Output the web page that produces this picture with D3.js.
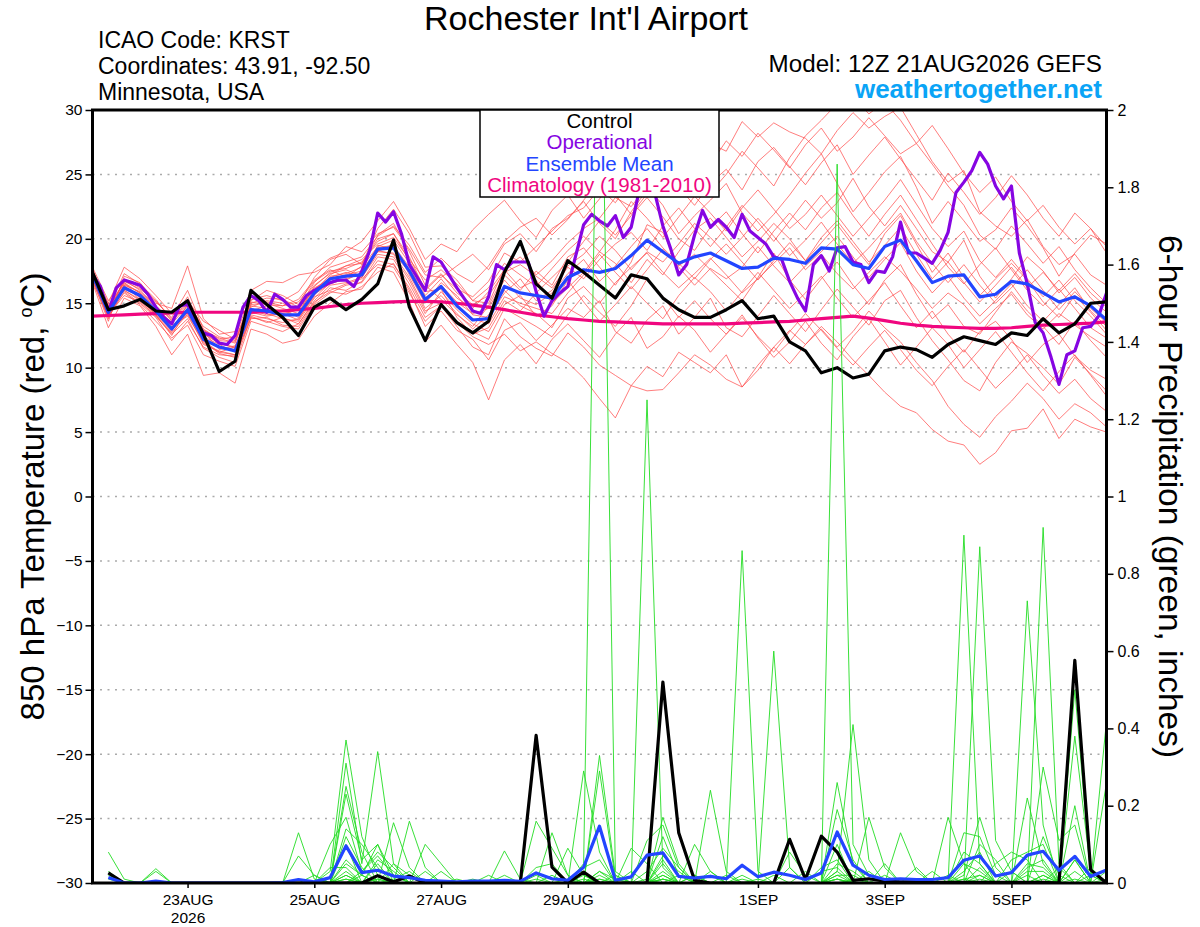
<!DOCTYPE html>
<html>
<head>
<meta charset="utf-8">
<script src="https://cdn.jsdelivr.net/npm/d3@7"></script>
<style>
  body { margin: 0; background: #fff; }
  svg { font-family: "Liberation Sans", Arial, Helvetica, sans-serif; }
</style>
</head>
<body>
<script>
// ---- data -------------------------------------------------------------
const runStart = Date.UTC(2026, 7, 21, 12);   // 12Z 21AUG2026
const stepHours = 6;      // ensemble, control, mean, climatology
const opStepHours = 3;    // operational run

const dateTicks = ['2026-08-23', '2026-08-25', '2026-08-27', '2026-08-29', '2026-09-01', '2026-09-03', '2026-09-05'];
const tempTicks = [-30, -25, -20, -15, -10, -5, 0, 5, 10, 15, 20, 25, 30];
const precipTicks = [0, 0.2, 0.4, 0.6, 0.8, 1, 1.2, 1.4, 1.6, 1.8, 2];

const legendItems = ['Control', 'Operational', 'Ensemble Mean', 'Climatology (1981-2010)'];

// 850 hPa temperature, 6-hourly from 12Z 21AUG
const tempControl = [17.4,14.5,14.8,15.3,14.4,14.3,15.2,12.6,9.7,10.5, 16.0,14.9,13.9,12.5,14.7,15.4,14.5,15.3,16.5,19.9,
  14.7,12.1,14.9,13.5,12.7,13.6,17.4,19.8,16.5,15.4, 18.3,17.4,16.4,15.4,17.2,16.9,15.4,14.5,13.9,13.9,
  14.5,15.2,13.8,14.0,12.0,11.3,9.6,10.0,9.2,9.5, 11.3,11.6,11.4,10.8,11.8,12.4,12.1,11.8,12.7,12.5, 13.8,12.7,13.4,15.0,15.1];

const tempMean = [17.2,14.3,16.2,15.6,14.4,13.0,14.5,12.2,11.6,11.3, 14.5,14.4,14.1,14.1,15.8,16.9,17.1,17.2,19.2,19.3,
  17.5,15.3,16.3,14.8,13.7,13.8,16.3,15.8,15.6,15.4, 17.0,17.6,17.4,17.7,18.7,19.9,19.0,18.1,18.6,18.9,
  18.3,17.7,17.8,18.5,18.4,18.1,19.3,19.2,18.0,17.7, 19.4,19.9,18.3,16.6,17.1,17.2,15.5,15.7,16.7,16.5, 15.8,15.1,15.5,14.8,13.7];

const tempClimo = [14.0,14.05,14.1,14.15,14.2,14.25,14.3,14.3,14.3,14.3, 14.3,14.35,14.4,14.5,14.6,14.75,14.9,15.0,15.05,15.1,
  15.15,15.15,15.1,15.0,14.85,14.7,14.5,14.3,14.1,13.95, 13.8,13.7,13.6,13.55,13.5,13.45,13.4,13.4,13.4,13.4,
  13.4,13.45,13.5,13.55,13.6,13.7,13.8,13.9,14.0,13.85, 13.65,13.45,13.3,13.2,13.15,13.1,13.05,13.05,13.1,13.2, 13.3,13.35,13.4,13.45,13.55];

// operational, 3-hourly
const tempOper = [17.2,16.3,14.3,16.2,16.8,16.6,16.4,15.7,14.7,13.9, 13.4,14.8,14.9,13.6,12.7,12.5,11.9,11.8,12.5,14.7,
  15.6,15.2,14.3,15.7,15.3,14.7,14.7,15.6,16.0,16.3, 16.6,16.8,16.8,16.3,17.5,19.1,22.0,21.3,22.1,20.4,
  18.0,17.0,16.0,18.6,18.2,17.2,16.2,15.3,14.4,14.2, 15.5,18.0,17.6,18.2,18.2,18.2,15.9,14.0,15.2,15.8,
  16.3,18.7,21.1,21.9,21.4,21.0,21.8,20.1,20.9,23.7, 26.0,23.5,21.0,19.2,17.2,18.0,20.3,22.2,20.9,21.5,
  20.9,20.1,21.9,20.6,20.1,19.6,18.6,18.4,16.7,15.4, 14.4,18.0,18.7,17.5,19.3,19.4,18.2,18.0,16.6,17.5,
  17.4,18.6,21.3,18.9,18.9,18.5,18.1,19.1,20.5,23.6, 24.4,25.3,26.7,25.8,24.1,23.1,24.1,18.9,16.5,13.5,
  12.7,10.8,8.7,11.0,11.3,13.1,13.2,14.0,15.8];

// ensemble members, 6-hourly
const tempMembers = [
  [17.0,14.0,16.5,15.8,14.6,13.4,14.8,12.6,11.9,11.6, 14.9,15.0,14.6,14.2,16.3,17.4,17.9,18.1,20.0,20.4, 18.6,16.0,17.2,16.1,15.5,16.7,18.9,18.2,19.4,20.6,
   21.8,22.4,23.9,22.8,24.6,25.8,24.9,26.1,25.2,27.4, 26.8,29.1,27.9,29.0,28.3,27.8,26.6,28.4,29.8,28.6, 29.5,30.2,28.1,26.0,24.4,25.3,22.1,21.0,20.2,21.5, 19.4,18.0,18.8,17.2,16.4],
  [17.4,14.6,16.0,15.2,14.0,12.6,13.8,11.5,10.8,10.4, 13.9,13.6,13.2,13.0,14.9,15.8,16.4,16.6,18.3,18.0, 16.2,13.9,14.8,13.2,11.6,11.0,13.8,12.4,11.5,10.9,
   12.7,11.6,10.2,9.4,8.6,10.1,9.3,11.2,10.4,9.6, 11.0,8.5,9.8,11.6,12.9,11.8,13.2,12.0,10.6,9.4, 8.1,7.0,6.5,5.2,4.3,4.0,2.5,3.4,5.1,5.3, 6.8,4.5,6.0,5.4,5.0],
  [16.8,13.6,17.1,16.6,15.1,13.9,16.0,13.0,12.2,12.4, 15.6,15.1,14.8,15.3,16.8,17.6,17.0,17.9,20.3,21.2, 19.0,16.4,15.3,14.1,13.2,14.8,17.2,16.0,17.5,16.4,
   18.6,19.3,17.8,16.4,18.2,21.1,20.5,17.9,18.8,17.6, 16.4,15.2,17.0,18.9,16.8,15.3,16.9,18.2,16.4,14.9, 16.8,18.0,15.7,13.8,14.9,13.2,12.6,14.3,15.9,14.4, 13.2,11.8,13.6,12.1,10.8],
  [17.6,15.0,17.8,16.9,15.6,14.2,15.2,13.6,12.9,12.2, 15.2,16.0,15.6,14.9,17.0,18.4,18.8,18.0,20.8,22.3, 20.4,17.8,17.9,16.8,15.2,15.0,17.7,18.6,17.2,18.3,
   19.7,20.8,21.6,23.2,22.5,24.1,22.6,20.4,21.8,23.0, 24.3,22.0,20.6,21.9,23.4,25.1,26.6,24.3,22.1,23.6, 25.2,26.4,24.0,21.2,22.9,21.4,19.8,20.7,22.4,21.0, 19.3,17.1,18.9,20.3,19.6],
  [16.9,14.2,15.8,14.9,13.6,12.3,13.3,11.0,10.5,10.1, 13.6,13.2,12.8,13.4,15.1,15.9,15.7,16.3,17.4,18.1, 16.0,13.2,14.4,12.9,12.2,10.6,12.9,13.5,12.1,13.3,
   14.6,13.9,15.2,12.8,11.9,13.7,14.8,12.6,13.9,15.4, 13.1,12.4,14.0,15.6,14.2,12.8,14.5,16.1,14.7,13.3, 15.2,16.0,13.9,12.1,10.6,9.0,8.2,10.4,12.0,11.1, 10.0,8.7,10.8,9.5,8.2],
  [17.5,14.8,16.6,15.4,14.1,12.8,14.9,12.1,11.2,11.0, 14.4,14.8,14.0,14.6,16.1,17.0,17.4,17.0,19.0,19.6, 17.2,15.0,16.6,15.6,14.1,13.9,15.8,16.9,15.2,16.0,
   17.8,16.9,18.4,19.6,20.5,19.1,21.0,22.4,20.8,19.4, 20.9,22.6,21.3,19.8,21.4,23.0,21.6,22.8,24.7,22.5, 21.0,22.6,20.8,19.0,18.2,19.9,17.1,15.4,16.9,18.6, 17.5,15.8,17.0,15.4,14.3],
  [16.6,13.1,15.4,14.8,13.2,11.0,12.6,9.4,9.6,8.8, 13.0,12.6,11.9,12.2,14.0,15.0,15.9,16.1,17.8,17.4, 15.1,12.0,13.3,11.8,10.4,7.5,10.6,11.8,10.3,12.2,
   13.4,12.1,10.8,12.6,13.9,11.5,12.4,14.0,12.9,11.2, 12.6,14.1,12.3,10.8,12.0,13.6,11.9,10.6,12.4,13.8, 12.0,10.2,11.6,13.1,11.8,10.0,11.4,12.8,11.2,9.6, 8.2,9.7,11.0,9.4,7.8],
  [17.8,15.2,16.9,16.2,15.0,14.6,17.9,13.8,12.6,12.8, 16.0,16.7,16.6,17.2,17.4,18.0,19.4,19.0,20.4,20.9, 19.2,17.2,17.0,17.9,18.8,17.6,19.6,20.4,19.0,20.8,
   21.6,22.9,21.2,20.0,22.1,23.8,25.6,24.0,22.6,24.3, 25.4,23.8,26.0,27.1,25.6,24.2,25.9,27.3,25.0,26.5, 27.9,26.2,24.6,23.0,25.1,23.6,21.9,23.2,24.9,23.4, 21.6,20.2,22.0,20.8,19.4],
  [17.3,14.4,16.4,15.9,14.8,13.3,14.1,12.4,11.8,11.2, 14.6,14.2,13.8,13.6,15.4,16.6,16.8,17.4,19.1,18.8, 17.0,14.6,15.6,14.2,13.0,14.1,16.0,14.8,14.2,13.1,
   15.4,16.3,15.0,16.6,17.8,18.9,17.4,16.2,17.3,18.5, 17.2,15.8,16.9,18.1,19.3,17.6,18.8,17.3,16.1,17.4, 18.6,17.5,16.1,14.6,15.8,14.9,13.4,14.6,15.7,14.1, 13.0,14.2,13.3,12.4,11.6],
  [17.0,14.1,16.3,15.5,14.3,13.1,14.6,12.8,11.4,11.7, 14.2,14.4,14.5,13.9,15.6,17.1,17.3,17.8,19.4,19.9, 18.1,15.6,16.9,15.4,14.6,15.9,17.6,16.2,16.8,15.0,
   16.2,17.4,19.0,18.1,16.6,18.4,17.2,19.0,20.7,21.6, 20.1,18.6,19.8,21.2,20.0,18.3,19.7,21.1,19.5,18.0, 20.4,21.8,19.6,17.4,18.9,17.0,15.6,16.9,18.1,16.8, 15.1,13.9,15.6,14.3,12.9],
  [17.1,14.5,17.3,16.5,15.3,13.6,14.9,12.9,12.1,12.0, 15.3,15.6,15.2,15.9,17.6,18.5,19.0,19.8,21.4,22.9, 20.8,18.4,19.6,19.0,20.7,21.9,23.0,21.4,20.1,22.2,
   23.4,21.6,23.1,24.8,26.2,24.9,27.1,28.4,27.0,25.8, 27.6,26.4,28.2,26.9,25.5,27.3,28.6,26.8,27.9,29.4, 28.0,26.6,27.4,25.8,24.1,22.6,20.3,19.2,21.0,19.6, 18.1,19.4,17.6,16.2,15.0],
  [16.7,13.9,15.9,15.0,13.9,12.1,13.6,11.6,11.0,10.9, 13.8,13.9,13.3,13.2,15.0,16.2,16.0,16.7,18.6,18.4, 16.5,14.2,15.9,14.5,13.4,12.8,14.9,15.6,14.0,14.8,
   16.8,15.1,13.6,14.9,16.3,15.0,13.8,15.6,17.0,15.9, 14.4,15.9,17.4,16.0,14.6,15.8,17.1,15.4,13.9,15.2, 16.6,14.8,13.1,14.4,12.6,11.2,12.8,13.6,12.2,10.4, 11.8,12.6,10.9,9.8,9.1],
  [17.4,14.7,16.0,15.3,14.2,12.9,14.4,12.3,11.5,11.4, 14.8,14.6,14.4,14.8,16.4,17.3,17.6,17.1,19.5,19.2, 17.6,15.9,16.1,13.9,12.6,13.1,15.2,14.4,15.8,17.0,
   18.2,19.8,21.4,20.3,21.8,23.2,21.7,20.0,19.1,20.9, 22.1,20.4,18.9,20.6,22.0,20.7,22.4,23.6,21.8,20.2, 21.9,23.4,21.5,19.6,17.8,16.5,18.0,19.3,17.6,16.0, 14.8,16.1,14.6,13.1,12.3],
  [17.1,14.0,16.2,15.7,14.5,13.2,14.0,12.0,11.1,10.8, 14.0,13.5,13.9,13.4,15.2,16.4,16.6,17.0,18.8,18.6, 16.8,14.4,15.0,13.5,12.4,11.8,12.6,11.3,12.0,11.1,
   10.4,9.2,7.6,6.1,8.6,8.2,8.3,9.6,11.0,10.2, 9.1,8.5,10.2,11.6,10.3,11.8,13.0,11.6,12.8,14.4, 13.1,12.0,10.4,9.0,7.0,5.6,4.6,6.2,7.4,8.8, 7.6,6.0,7.2,6.5,5.4],
  [17.2,14.3,16.8,16.0,14.8,13.7,15.5,12.7,11.9,11.5, 14.7,15.2,15.0,14.4,16.0,17.2,17.9,18.4,19.6,20.1, 18.4,16.8,17.6,16.5,15.2,16.2,18.1,17.2,16.3,17.7,
   19.1,20.2,19.0,20.7,22.9,21.6,20.1,21.7,23.3,22.0, 20.6,22.4,23.8,22.3,20.8,21.9,23.4,21.8,20.2,21.6, 23.0,24.6,22.7,20.8,19.4,20.6,18.3,17.0,18.4,16.9, 15.5,16.8,15.2,14.0,12.6],
  [16.9,14.1,15.6,15.1,14.0,12.7,14.2,11.8,11.3,11.0, 14.1,13.8,13.5,13.8,15.5,16.0,16.5,16.9,18.0,17.8, 15.8,13.6,14.8,13.6,12.8,12.2,14.6,13.9,13.2,12.4,
   14.1,15.6,14.3,13.2,14.8,16.9,15.5,13.9,15.2,13.8, 12.6,13.9,12.4,11.2,12.8,14.2,12.9,11.5,10.2,11.6, 12.9,11.4,9.8,8.6,10.1,11.4,9.9,8.4,9.6,11.0, 9.4,8.0,9.1,7.6,6.6],
  [17.5,14.9,16.1,15.6,14.4,12.9,14.3,12.2,11.6,11.3, 14.5,14.1,14.2,14.5,16.2,16.8,17.2,17.5,19.3,19.5, 17.8,15.4,16.4,15.1,14.2,14.6,16.8,15.4,14.9,15.8,
   17.3,18.4,16.7,17.9,19.4,20.8,19.3,18.1,16.9,18.4, 19.6,18.2,16.8,18.3,19.7,18.3,20.1,21.4,19.8,18.2, 19.5,20.9,18.8,16.9,18.2,16.6,15.1,16.4,17.8,16.2, 17.4,16.0,17.3,15.8,14.7],
  [17.3,14.6,16.7,16.1,15.2,13.8,15.0,13.2,12.4,12.1, 15.0,15.4,15.3,14.7,16.6,17.8,18.2,18.6,20.2,21.0, 19.5,17.4,18.5,17.3,16.6,17.9,19.8,20.9,21.6,20.3,
   21.5,23.0,24.6,23.4,21.9,23.5,25.0,26.6,25.1,23.6, 25.0,26.8,25.5,24.1,26.3,28.0,29.2,30.5,31.0,29.7, 30.6,29.2,27.4,28.8,27.0,25.1,23.6,24.8,22.9,21.4, 22.6,20.9,19.6,20.8,18.9],
  [17.0,13.8,16.4,15.3,14.1,12.5,14.6,11.9,11.2,11.6, 14.3,14.0,14.2,13.7,15.7,16.5,16.9,17.3,19.0,18.9, 17.4,15.1,16.2,14.8,13.8,13.4,15.5,15.0,14.6,14.2,
   15.8,17.2,18.8,17.4,16.1,17.6,19.2,17.8,16.4,17.7, 16.9,17.8,19.4,17.9,16.6,17.9,19.0,20.2,18.6,17.0, 18.4,19.7,17.5,15.8,17.1,15.4,14.0,15.2,16.5,14.8, 13.6,14.9,16.2,14.4,13.2],
  [17.6,14.4,16.6,15.8,14.7,13.5,15.3,12.9,12.3,11.9, 15.1,14.9,14.8,15.1,16.7,17.5,17.7,18.2,19.8,20.4, 18.3,16.1,17.3,15.8,14.9,15.6,17.4,18.0,17.1,16.2,
   17.9,18.8,20.2,19.1,17.6,19.0,18.2,19.6,21.2,20.1, 18.8,20.1,21.6,20.2,18.7,19.9,21.3,19.6,18.1,19.3, 20.7,22.0,19.8,18.1,16.6,18.0,16.4,15.0,16.2,17.6, 16.0,14.5,15.9,14.6,13.5]
];

// 6-hour precipitation (inches), periods ending 18Z 21AUG ... 12Z 6SEP (64 values)
const precipControl = [0.026,0,0,0,0,0,0,0, 0,0,0,0,0,0,0,0, 0,0.019,0.003,0.018,0,0,0,0, 0,0,0,0.382,0.041,0,0.028,0,
  0,0,0,0.52,0.13,0.007,0,0, 0,0,0,0.113,0.009,0.121,0.08,0.007, 0.011,0.005,0.003,0.003,0.002,0.002,0.002,0.002, 0.002,0.002,0.002,0.002,0,0.576,0.034,0];

const precipMean = [0.014,0,0,0.005,0,0,0,0, 0,0,0,0.001,0.009,0.003,0.014,0.096, 0.027,0.033,0.018,0.014,0.007,0.005,0.003,0.005,
  0.005,0.007,0.004,0.026,0.011,0.007,0.041,0.147, 0.007,0.016,0.072,0.078,0.017,0.013,0.017,0.011, 0.046,0.016,0.028,0.02,0.009,0.026,0.132,0.046,
  0.02,0.009,0.011,0.009,0.009,0.014,0.059,0.07, 0.018,0.027,0.072,0.082,0.033,0.069,0.017,0.034];

const precipMembers = [
  [.08,.01,0,0,0,0,0,0, 0,0,0,0,0,0,.03,.37, .12,.02,0,0,0,0,0,0, 0,0,0,.02,0,0,.05,2.56, .03,0,0,.06,0,0,0,0, 0,0,0,0,0,0,.03,.41, .06,0,0,0,0,0,.02,.17, .04,0,0,0,0,.06,0,0],
  [.03,0,0,.037,0,0,0,0, 0,0,0,0,0,0,0,.31, .05,.34,.05,.02,0,0,0,0, 0,0,0,0,.13,.02,0,0, 0,0,1.25,.04,0,0,0,0, .02,0,0,0,0,0,.26,.05, 0,0,0,0,0,0,.9,.05, 0,0,0,.12,.02,0,0,.42],
  [.02,0,0,.03,0,0,0,0, 0,0,0,0,.13,.01,0,.25, .08,0,.156,.04,0,0,0,0, 0,.083,.01,0,0,0,0,.33, .02,0,0,0,0,0,.24,.03, 0,0,0,0,0,0,1.86,.1, .02,0,0,0,0,0,0,0, 0,0,.22,.05,0,.38,.03,0],
  [0,0,0,0,0,0,0,0, 0,0,0,0,.07,.02,0,.23, .06,.1,0,.16,.04,0,0,0, 0,0,0,.16,.09,.02,0,.29, .01,0,0,.17,.05,0,0,0, 0,0,.6,.04,0,0,0,0, 0,0,0,0,0,0,0,.87, .11,.03,0,0,0,0,0,0],
  [0,0,0,0,0,0,0,0, 0,0,0,0,0,0,.1,.17, .03,.07,.02,0,.1,.05,0,0, 0,0,0,0,0,0,.29,.08, 0,0,.11,.15,.04,0,0,0, .86,.03,0,0,0,0,0,0, 0,0,0,0,0,0,0,0, 0,0,0,.92,.05,0,0,0],
  [0,0,0,0,0,0,0,0, 0,0,0,0,0,0,0,.14, .1,.04,0,0,0,.03,0,0, .02,0,0,0,0,.09,.02,0, 0,.09,.05,0,0,.1,.03,0, 0,0,0,0,0,0,.19,.06, 0,0,0,0,0,.17,.05,0, 0,0,.73,.15,0,.5,.02,0],
  [0,0,0,0,0,0,0,0, 0,0,0,0,0,0,0,.12, .04,0,.05,0,0,0,0,.01, 0,0,0,.04,.05,0,0,.03, .01,0,0,.07,.03,0,0,0, 0,0,0,.08,.02,0,.1,0, .17,.04,0,0,0,0,.13,.12, .02,0,0,0,0,.2,0,.26],
  [.01,0,0,0,0,0,0,0, 0,0,0,0,0,0,0,.1, 0,.06,.03,0,0,0,.01,0, 0,0,0,0,0,0,.04,.06, 0,0,0,.12,.02,0,.03,0, 0,0,0,0,0,.04,.06,0, 0,0,.13,.03,0,0,0,.1, .06,0,0,.3,.11,.15,0,0],
  [0,0,0,0,0,0,0,0, 0,0,0,0,0,0,0,.06, .02,.1,.02,0,0,0,0,0, 0,.02,0,0,0,0,0,.03, 0,0,0,.05,0,.02,0,0, 0,0,0,.04,0,0,.05,.03, 0,0,0,0,.03,0,.08,.05, 0,.06,.08,.1,0,0,.04,0],
  [0,0,0,0,0,0,0,0, 0,0,0,0,0,0,0,.05, .02,0,0,.02,0,0,0,0, 0,0,0,0,.02,0,.02,0, 0,0,.03,.09,.04,0,0,0, 0,0,0,0,0,.03,.04,0, 0,.05,0,0,0,0,.05,.03, 0,0,.04,.06,0,.06,0,0],
  [0,0,0,0,0,0,0,0, 0,0,0,0,0,0,.04,.04, 0,.05,0,0,.03,0,0,0, 0,0,0,0,0,.01,0,.01, 0,.03,0,.03,0,0,.02,0, 0,0,0,0,.03,0,.03,0, 0,0,0,.04,0,.02,0,0, .05,.08,.06,0,.04,0,0,0],
  [0,0,0,0,0,0,0,0, 0,0,0,0,0,0,0,0, .03,.08,.04,0,0,0,0,0, 0,0,0,.01,0,0,.01,0, .02,0,0,.02,0,0,0,.02, 0,0,.02,0,0,0,.02,.02, 0,0,0,0,0,0,.03,.08, 0,0,.05,.04,0,.03,0,.03],
  [0,0,0,0,0,0,0,0, 0,0,0,0,0,.02,0,.02, 0,0,.01,.03,0,0,0,0, 0,0,0,0,0,0,0,.02, 0,0,.01,0,.02,0,0,0, 0,.01,0,0,0,0,.02,0, .03,0,0,0,0,0,0,.04, 0,.03,0,.02,0,0,.02,0],
  [0,0,0,0,0,0,0,0, 0,0,0,0,0,0,0,.01, 0,.02,0,0,0,0,0,0, 0,0,0,0,0,0,0,0, 0,0,0,.01,0,.02,0,0, .01,0,0,0,0,0,.01,0, 0,.02,0,0,0,0,.01,.02, 0,0,.03,.03,0,0,0,.01],
  [0,0,0,0,0,0,0,0, 0,0,0,0,0,0,0,.03, 0,.01,0,0,0,0,0,0, 0,0,0,0,0,0,0,0, 0,0,0,.02,0,0,0,0, 0,0,0,0,0,0,.01,0, 0,0,0,0,0,0,0,.02, 0,0,0,.02,0,0,0,0],
  [0,0,0,0,0,0,0,0, 0,0,0,0,0,0,0,0, .02,0,0,0,0,0,0,0, 0,0,0,0,0,0,0,.01, 0,0,0,0,0,0,0,0, 0,0,0,0,0,0,0,.01, 0,0,0,0,0,0,0,0, 0,0,.02,0,0,0,0,0],
  [0,0,0,0,0,0,0,0, 0,0,0,0,0,0,0,.02, 0,0,0,0,0,0,0,0, 0,0,0,0,0,0,0,0, 0,0,0,.01,0,0,0,0, 0,0,0,0,0,0,0,0, 0,0,0,0,0,0,0,.01, 0,0,0,0,0,0,0,0],
  [0,0,0,0,0,0,0,0, 0,0,0,0,0,0,0,0, 0,.01,0,0,0,0,0,0, 0,0,0,0,0,0,0,0, 0,0,0,0,0,0,0,0, 0,0,0,0,0,0,.01,0, 0,0,0,0,0,0,0,0, 0,0,0,.01,0,0,0,0],
  [0,0,0,0,0,0,0,0, 0,0,0,0,0,0,0,.01, 0,0,0,0,0,0,0,0, 0,0,0,0,0,0,0,0, 0,0,0,0,0,0,0,0, 0,0,0,0,0,0,0,0, 0,0,0,0,0,0,.01,0, 0,0,0,0,0,0,0,0],
  [0,0,0,0,0,0,0,0, 0,0,0,0,0,0,0,0, 0,0,0,0,0,0,0,0, 0,0,0,0,0,0,0,0, 0,0,0,.01,0,0,0,0, 0,0,0,0,0,0,0,0, 0,0,0,0,0,0,0,0, 0,0,0,0,0,.01,0,0]
];

// ---- layout -----------------------------------------------------------
const W = 1200, H = 927;
const plot = {left: 92.5, right: 1106.5, top: 110, bottom: 883};
const colors = {member: '#ff4a4a', precip: '#22dd22', control: '#000', oper: '#8605e2', mean: '#2345ff', climo: '#f0067f'};

const svg = d3.select('body').append('svg')
    .attr('width', W)
    .attr('height', H);

const hour = 3600 * 1000;
const runEnd = runStart + (tempMean.length - 1) * stepHours * hour;

const x = d3.scaleUtc().domain([runStart, runEnd]).range([plot.left, plot.right]);
const yT = d3.scaleLinear().domain([-30, 30]).range([plot.bottom, plot.top]);
const yP = d3.scaleLinear().domain([0, 2]).range([plot.bottom, plot.top]);

const timeAt = (i, step) => runStart + i * step * hour;

svg.append('clipPath').attr('id', 'plotclip')
  .append('rect')
    .attr('x', plot.left).attr('y', plot.top)
    .attr('width', plot.right - plot.left).attr('height', plot.bottom - plot.top);

// dotted grid at the temperature ticks
svg.append('g').selectAll('line')
  .data(tempTicks.filter(d => d > -30 && d < 30))
  .join('line')
    .attr('x1', plot.left).attr('x2', plot.right)
    .attr('y1', d => yT(d)).attr('y2', d => yT(d))
    .attr('stroke', '#aaa')
    .attr('stroke-width', 1.5)
    .attr('stroke-dasharray', '2,5.5');

const lines = svg.append('g').attr('clip-path', 'url(#plotclip)');

const tempLine = step => d3.line().x((d, i) => x(timeAt(i, step))).y(d => yT(d));
// precip periods start at the first 6h step
const precipLine = d3.line().x((d, i) => x(timeAt(i + 1, stepHours))).y(d => yP(d));

// ensemble members (temperature)
lines.append('g').selectAll('path')
  .data(tempMembers)
  .join('path')
    .attr('d', tempLine(stepHours))
    .attr('fill', 'none')
    .attr('stroke', colors.member)
    .attr('stroke-opacity', 0.8)
    .attr('stroke-width', 0.9);

function thick(data, line, color) {
    lines.append('path')
        .datum(data)
        .attr('d', line)
        .attr('fill', 'none')
        .attr('stroke', color)
        .attr('stroke-width', 3.2)
        .attr('stroke-linejoin', 'round');
}

thick(tempClimo, tempLine(stepHours), colors.climo);
thick(tempOper, tempLine(opStepHours), colors.oper);
thick(tempMean, tempLine(stepHours), colors.mean);
thick(tempControl, tempLine(stepHours), colors.control);

// ensemble members (precip)
lines.append('g').selectAll('path')
  .data(precipMembers)
  .join('path')
    .attr('d', precipLine)
    .attr('fill', 'none')
    .attr('stroke', colors.precip)
    .attr('stroke-width', 0.9);

thick(precipControl, precipLine, colors.control);
thick(precipMean, precipLine, colors.mean);

// frame
svg.append('rect')
    .attr('x', plot.left).attr('y', plot.top)
    .attr('width', plot.right - plot.left).attr('height', plot.bottom - plot.top)
    .attr('fill', 'none')
    .attr('stroke', '#000')
    .attr('stroke-width', 3);

// axes
const leftAxis = svg.append('g')
    .attr('transform', `translate(${plot.left},0)`)
    .call(d3.axisLeft(yT).tickValues(tempTicks).tickSize(7).tickPadding(3));
const rightAxis = svg.append('g')
    .attr('transform', `translate(${plot.right},0)`)
    .call(d3.axisRight(yP).tickValues(precipTicks).tickSize(7).tickPadding(4)
        .tickFormat(d => String(+d.toFixed(1))));
const bottomAxis = svg.append('g')
    .attr('transform', `translate(0,${plot.bottom})`)
    .call(d3.axisBottom(x).tickValues(dateTicks.map(d => new Date(d + 'T00:00:00Z')))
        .tickSize(5).tickPadding(6)
        .tickFormat(d => d3.utcFormat('%-d%b')(d).toUpperCase()));

[leftAxis, rightAxis, bottomAxis].forEach(g => {
    g.select('.domain').remove();
    g.selectAll('.tick line').attr('stroke', '#000').attr('stroke-width', 1.5);
    g.selectAll('text').attr('fill', '#000').style('font-family', '"Liberation Sans", Arial, sans-serif');
});
leftAxis.selectAll('text').style('font-size', '15.5px');
rightAxis.selectAll('text').style('font-size', '16px');
bottomAxis.selectAll('text').style('font-size', '15.5px');
bottomAxis.select('.tick text')
  .append('tspan').attr('x', 0).attr('dy', '1.15em').text('2026');

// titles
svg.append('text')
    .attr('x', 586).attr('y', 30)
    .attr('text-anchor', 'middle')
    .style('font-size', '34px')
    .text("Rochester Int'l Airport");

const info = ['ICAO Code: KRST', 'Coordinates: 43.91, -92.50', 'Minnesota, USA'];
svg.append('g').selectAll('text')
  .data(info)
  .join('text')
    .attr('x', 98)
    .attr('y', (d, i) => 48 + i * 26)
    .style('font-size', '23px')
    .text(d => d);

svg.append('text')
    .attr('x', 1102).attr('y', 72)
    .attr('text-anchor', 'end')
    .style('font-size', '24.2px')
    .text('Model: 12Z 21AUG2026 GEFS');

svg.append('text')
    .attr('x', 1102).attr('y', 98)
    .attr('text-anchor', 'end')
    .style('font-size', '26px')
    .style('font-weight', 'bold')
    .attr('fill', '#0aa4f6')
    .text('weathertogether.net');

// axis titles
const leftTitle = svg.append('text')
    .attr('transform', `translate(44,${(plot.top + plot.bottom) / 2}) rotate(-90)`)
    .attr('text-anchor', 'middle')
    .style('font-size', '33px');
leftTitle.append('tspan').text('850 hPa Temperature (red, ');
leftTitle.append('tspan').attr('dy', -12).style('font-size', '18px').text('o');
leftTitle.append('tspan').attr('dy', 12).text('C)');

svg.append('text')
    .attr('transform', `translate(1159,${(plot.top + plot.bottom) / 2}) rotate(90)`)
    .attr('text-anchor', 'middle')
    .style('font-size', '33.5px')
    .text('6-hour Precipitation (green, inches)');

// legend
const legendColors = [colors.control, colors.oper, colors.mean, colors.climo];
const legend = svg.append('g');
legend.append('rect')
    .attr('x', 480).attr('y', plot.top)
    .attr('width', 239).attr('height', 87)
    .attr('fill', '#fff')
    .attr('stroke', '#000')
    .attr('stroke-width', 1.5);
legend.selectAll('text')
  .data(legendItems)
  .join('text')
    .attr('x', 599.5)
    .attr('y', (d, i) => plot.top + 18 + i * 21.3)
    .attr('text-anchor', 'middle')
    .attr('fill', (d, i) => legendColors[i])
    .style('font-size', '20.5px')
    .text(d => d);
</script>
</body>
</html>
